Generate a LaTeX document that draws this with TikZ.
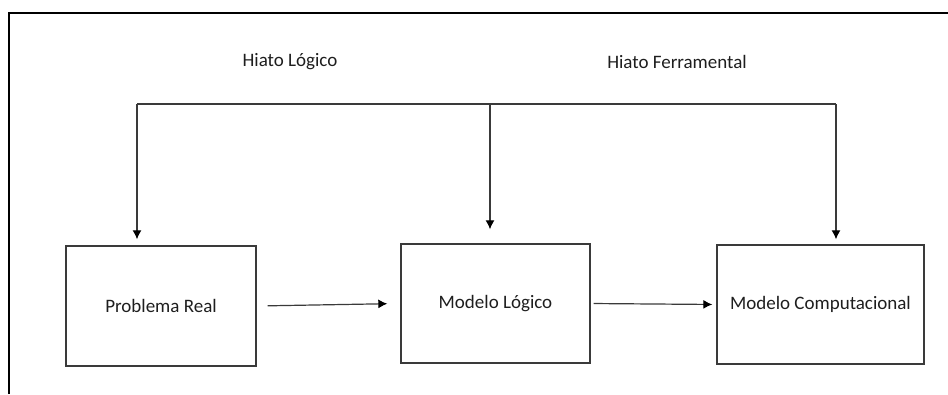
\documentclass[tikz,border=0pt]{standalone}
\usepackage{fontspec}
\setmainfont{Carlito}
\usetikzlibrary{arrows.meta}

\definecolor{linegray}{HTML}{3A3A3A}
\definecolor{textgray}{HTML}{1E1E1E}

\begin{document}
\begin{tikzpicture}[
  x=1pt, y=-1pt,
  block/.style={rectangle, draw=linegray, line width=1.4pt, inner sep=0pt, text=textgray,
    font=\fontsize{19}{23}\selectfont},
  gap/.style={text=textgray, font=\fontsize{19}{23}\selectfont, inner sep=0pt},
  arr/.style={draw=linegray, line width=1.2pt, -{Latex[length=9pt,width=9pt,black]}}
]
\useasboundingbox (0,0) rectangle (948,394);

% Frame
\draw[line width=2pt] (9,394) -- (9,13) -- (948,13);

% Labels
\node[gap] (hlog) at (290,62) {Hiato Lógico};
\node[gap] (hfer) at (677,62) {Hiato Ferramental};

% Boxes
\node[block, minimum width=190pt, minimum height=120pt] (real) at (161,306) {\raisebox{-3pt}{Problema Real}};
\node[block, minimum width=189pt, minimum height=119pt] (logico) at (495.5,303.5) {\raisebox{-3pt}{Modelo Lógico}};
\node[block, minimum width=207pt, minimum height=119pt] (comp) at (820.5,304.5) {\raisebox{-3pt}{Modelo Computacional}};

% Top bar
\coordinate (tl) at (137,104);
\coordinate (tm) at (490,104);
\coordinate (tr) at (836,104);
\draw[draw=linegray, line width=1.2pt] (tl) -- (tr);
\draw[arr, shorten >=6pt] (tl) -- (tl |- real.north);
\draw[arr, shorten >=14pt] (tm) -- (tm |- logico.north);
\draw[arr, shorten >=5pt] (tr) -- (tr |- comp.north);

% Arrows
\draw[arr, shorten <=11pt, shorten >=13pt] (real.east) -- (logico.west);
\draw[arr, shorten <=3pt, shorten >=4pt] (logico.east) -- (comp.west);
\end{tikzpicture}
\end{document}
